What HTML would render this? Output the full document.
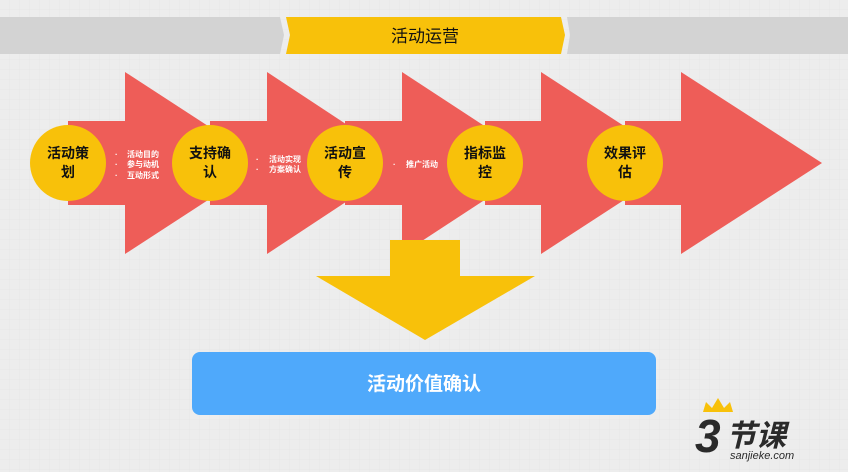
<!DOCTYPE html><html><head><meta charset="utf-8"><style>
body{margin:0;width:848px;height:472px;overflow:hidden;background:#ececec;font-family:"Liberation Sans","Noto Sans CJK SC",sans-serif}
</style></head><body>
<svg width="848" height="472" xmlns="http://www.w3.org/2000/svg" style="position:absolute;left:0;top:0">
<defs><pattern id="g" width="10" height="10" patternUnits="userSpaceOnUse"><path d="M10 0V10H0" fill="none" stroke="#e2e2e2" stroke-width="1"/></pattern></defs>
<rect width="848" height="472" fill="#ededed"/>
<rect width="848" height="472" fill="url(#g)" opacity="0.6"/>
<polygon points="0,17 280,17 284,35 280,54 0,54" fill="#d3d3d3"/>
<polygon points="567,17 848,17 848,54 567,54 570,35" fill="#d3d3d3"/>
<polygon points="286,17 561,17 565,35 561,54 286,54 290,35" fill="#f8c10a"/>
<text x="425" y="42" font-size="17" text-anchor="middle" fill="#111">活动运营</text>
<g fill="#ee5d58">
<polygon points="68,121 125,121 125,72 265,163 125,254 125,205 68,205"/>
<polygon points="210,121 267,121 267,72 405,163 267,254 267,205 210,205"/>
<polygon points="345,121 402,121 402,72 541,163 402,254 402,205 345,205"/>
<polygon points="485,121 541,121 541,72 681,163 541,254 541,205 485,205"/>
<polygon points="625,121 681,121 681,72 822,163 681,254 681,205 625,205"/>
</g>
<g fill="#f8c10a">
<circle cx="68" cy="163" r="38"/><circle cx="210" cy="163" r="38"/><circle cx="345" cy="163" r="38"/><circle cx="485" cy="163" r="38"/><circle cx="625" cy="163" r="38"/>
<polygon points="390,240 460,240 460,276 535,276 425,340 316,276 390,276"/>
</g>
<g font-size="14" font-weight="bold" text-anchor="middle" fill="#111">
<text x="68" y="158">活动策</text><text x="68" y="177">划</text>
<text x="210" y="158">支持确</text><text x="210" y="177">认</text>
<text x="345" y="158">活动宣</text><text x="345" y="177">传</text>
<text x="485" y="158">指标监</text><text x="485" y="177">控</text>
<text x="625" y="158">效果评</text><text x="625" y="177">估</text>
</g>
<g font-size="8" font-weight="bold" fill="#fff">
<text x="127" y="157">活动目的</text><text x="127" y="167">参与动机</text><text x="127" y="178">互动形式</text>
<text x="269" y="162">活动实现</text><text x="269" y="172">方案确认</text>
<text x="406" y="167">推广活动</text>
<text x="115" y="157">·</text><text x="115" y="167">·</text><text x="115" y="178">·</text>
<text x="256" y="162">·</text><text x="256" y="172">·</text><text x="393" y="167">·</text>
</g>
<rect x="192" y="352" width="464" height="63" rx="8" fill="#4fa9fb"/>
<text x="424" y="390" font-size="19" font-weight="bold" text-anchor="middle" fill="#fff">活动价值确认</text>
<polygon points="703,412 706,402 712,408 718,398 724,408 730,402 733,412" fill="#f8c10a"/>
<text x="695" y="452" font-size="46" font-weight="bold" font-style="italic" fill="#2a2a2a">3</text>
<text x="726" y="446" font-size="30" font-weight="bold" font-style="italic" fill="#2a2a2a">节课</text>
<text x="730" y="459" font-size="11" font-style="italic" fill="#2a2a2a">sanjieke.com</text>
</svg>
</body></html>
